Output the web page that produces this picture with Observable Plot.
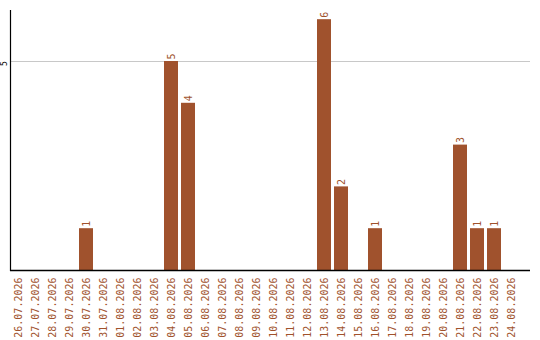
<!DOCTYPE html>
<html>
<head>
<meta charset="utf-8">
<script src="https://cdn.jsdelivr.net/npm/d3@7"></script>
<script src="https://cdn.jsdelivr.net/npm/@observablehq/plot@0.6"></script>
<style>
  html, body { margin: 0; padding: 0; background: #fff; }
  #chart svg { display: block; }
</style>
</head>
<body>
<div id="chart"></div>
<script>
// Daily counts, 26.07.2026 – 24.08.2026
const dates = [
  "26.07.2026", "27.07.2026", "28.07.2026", "29.07.2026", "30.07.2026",
  "31.07.2026", "01.08.2026", "02.08.2026", "03.08.2026", "04.08.2026",
  "05.08.2026", "06.08.2026", "07.08.2026", "08.08.2026", "09.08.2026",
  "10.08.2026", "11.08.2026", "12.08.2026", "13.08.2026", "14.08.2026",
  "15.08.2026", "16.08.2026", "17.08.2026", "18.08.2026", "19.08.2026",
  "20.08.2026", "21.08.2026", "22.08.2026", "23.08.2026", "24.08.2026"
];
const counts = [
  0, 0, 0, 0, 1,
  0, 0, 0, 0, 5,
  4, 0, 0, 0, 0,
  0, 0, 0, 6, 2,
  0, 1, 0, 0, 0,
  0, 3, 1, 1, 0
];
const yTicks = [5];

const data = dates.map((date, i) => ({date, count: counts[i]}));
const nonZero = data.filter(d => d.count > 0);

const brown = "#a0522d";
const mono = "'DejaVu Sans Mono', monospace";

const chart = Plot.plot({
  width: 540,
  height: 340,
  marginLeft: 10,
  marginRight: 10,
  marginTop: 10,
  marginBottom: 70,
  style: {fontFamily: mono, background: "#fff"},
  x: {domain: dates, range: [8.5, 519.5], paddingInner: 0.18, paddingOuter: 0.09, axis: null},
  y: {domain: [0, 6.22], axis: null},
  marks: [
    Plot.gridY(yTicks, {stroke: "#c8c8c8", strokeOpacity: 1}),
    Plot.barY(nonZero, {x: "date", y: "count", fill: brown}),
    Plot.text(nonZero, {
      x: "date", y: "count", text: d => String(d.count),
      rotate: -90, textAnchor: "start", dy: -2,
      fill: brown, fontSize: 10, fontFamily: mono
    }),
    Plot.text(yTicks, {
      y: d => d, text: d => String(d), frameAnchor: "left", dx: -6, dy: 2,
      rotate: -90, textAnchor: "middle", fill: "#000", fontSize: 8, fontFamily: mono
    }),
    Plot.text(dates, {
      x: d => d, text: d => d, frameAnchor: "bottom", dy: 7,
      rotate: -90, textAnchor: "end", lineAnchor: "middle",
      fill: brown, fontSize: 10, fontFamily: mono
    }),
    Plot.frame({anchor: "left", stroke: "#000", strokeWidth: 1.2}),
    Plot.ruleY([0], {stroke: "#000", strokeWidth: 1.5})
  ]
});

document.getElementById("chart").appendChild(chart);
</script>
</body>
</html>
